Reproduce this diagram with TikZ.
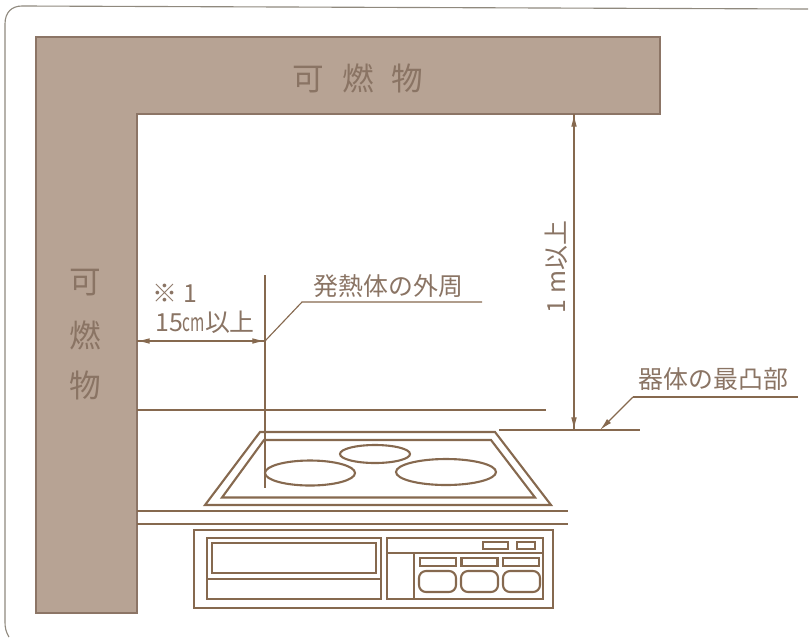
\documentclass[tikz,border=0pt]{standalone}
\usepackage{fontspec}
\setmainfont{Noto Sans CJK JP}
\usetikzlibrary{arrows.meta}
\definecolor{wallfill}{HTML}{B7A394}
\definecolor{wallline}{HTML}{8C7566}
\definecolor{ink}{HTML}{86694F}
\definecolor{labelink}{HTML}{8A7464}
\definecolor{framegray}{HTML}{8F897E}
\def\wallx{137}
\def\wally{114}
\def\btnw{36}
\tikzset{
  wall/.style={draw=wallline,line width=1.2pt,fill=wallfill},
  cook/.style={draw=ink,line width=1.5pt},
  dim/.style={draw=ink,line width=0.8pt},
  tip/.style={-{Latex[length=9pt,width=4pt]}},
  label/.style={text=labelink,inner sep=0pt,font=\fontsize{17.7}{20}\selectfont},
  wallfont/.style={text=labelink,inner sep=0pt,font=\fontsize{22.5}{24}\selectfont}
}
\begin{document}
\begin{tikzpicture}[x=0.25mm,y=-0.25mm]
\useasboundingbox (0,0) rectangle (811,638);
\draw[framegray,line width=0.8pt] (9,637) .. controls (6,632) and (5,628) .. (5,622) -- (5,24)
  .. controls (5,12) and (12,6) .. (22,6) -- (808,9);
% wall
\draw[wall] (36,37) -- (660,37) -- (660,\wally) -- (\wallx,\wally) -- (\wallx,613) -- (36,613) -- cycle;
\node[wallfont] (walltop) at (358,78) {可\hspace{4.5mm}燃\hspace{4.5mm}物};
\foreach \ch/\yy/\nm in {可/283/a,燃/335/b,物/385/c} {
  \node[wallfont] (wallleft\nm) at (85,\yy) {\ch};
}
% counter and back line
\draw[cook] (\wallx,410) -- (546,410);
\draw[cook] (\wallx,511) -- (568,511);
\draw[cook] (\wallx,524) -- (568,524);
% top plate
\draw[cook] (260,432) -- (495,432) -- (551,505) -- (205,505) -- cycle;
\draw[cook] (264,440) -- (491,440) -- (535,497.5) -- (222,497.5) -- cycle;
\draw[cook] (310,473) ellipse (45 and 12.5);
\draw[cook] (375,454) ellipse (35 and 9);
\draw[cook] (446,472) ellipse (50 and 13);
% oven front
\draw[cook] (194,530) rectangle (553,608);
\draw[cook] (207,538) rectangle (381,599);
\draw[cook] (212,543) rectangle (376,573);
\draw[cook] (207,579) -- (381,579);
\draw[cook] (387,538) rectangle (543,599);
\draw[cook] (387,553) -- (543,553);
\draw[cook] (414,553) -- (414,599);
\draw[cook] (483,542) rectangle +(25,7);
\draw[cook] (517,542) rectangle +(18,7);
\foreach \i in {0,1,2} {
  \draw[cook] (420+\i*41.5,558) rectangle +(\btnw,8);
  \draw[cook,rounded corners=5pt] (419+\i*42,571) rectangle +(37,21);
}
% dimensions
\coordinate (heatup) at (265,275);
\coordinate (heatdown) at (265,488);
\coordinate (heatdim) at (265,341);
\coordinate (walldim) at (\wallx,341);
\coordinate (heatbend) at (302,302);
\coordinate (heatend) at (482,302);
\draw[dim] (heatup) -- (heatdown);
\draw[dim,tip] (heatdim) -- (walldim);
\draw[dim,tip] (walldim) -- (heatdim);
\draw[dim] (heatdim) -- (heatbend) -- (heatend);
\node[label] (heatlabel) at (388.5,286) {発熱体の外周};
\node[label] (notelabel) at (175,293) {※ 1};
\node[label,anchor=west] (mindist) at (155,322) {15\scalebox{0.62}[1]{cm}以上};
\coordinate (topup) at (574,\wally);
\coordinate (topdown) at (574,430);
\coordinate (topleft) at (499,430);
\coordinate (topright) at (640,430);
\coordinate (topmark) at (600,430);
\coordinate (topbend) at (633,397);
\coordinate (topend) at (798,397);
\draw[dim] (topleft) -- (topright);
\draw[dim,tip] (topup) -- (topdown);
\draw[dim,tip] (topdown) -- (topup);
\draw[dim,tip] (topbend) -- (topmark);
\draw[dim] (topbend) -- (topend);
\node[label] (toplabel) at (713.5,379) {器体の最凸部};
\node[label,rotate=90] (clearance) at (556,267) {1 m以上};
\end{tikzpicture}
\end{document}
